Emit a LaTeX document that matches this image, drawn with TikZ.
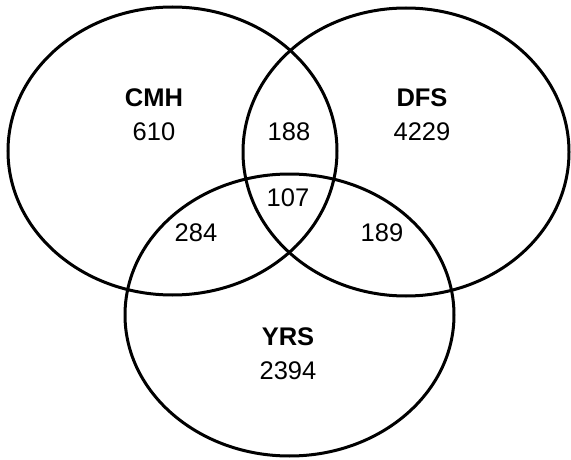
\documentclass[tikz,border=0pt]{standalone}
\usepackage{fontspec}
\setmainfont{Liberation Sans}

\begin{document}
\begin{tikzpicture}[x=1pt,y=-1pt,
  menge/.style={line width=3pt},
  zahl/.style={inner sep=0pt, font=\fontsize{25.5}{30}\selectfont},
  titel/.style={inner sep=0pt, font=\fontsize{25.5}{30}\selectfont\bfseries}]
	\useasboundingbox (0,0) rectangle (571,460);
	% Ellipsen zeichnen
	\draw[menge] (172.5,151) ellipse [x radius=164.5pt, y radius=144pt];
	\draw[menge] (406,152) ellipse [x radius=163pt, y radius=144pt];
	\draw[menge] (289.5,315) ellipse [x radius=164.5pt, y radius=141pt];
	% Mengen beschriften
	\node[titel] (cmh) at (154,98) {CMH};
	\node[zahl] (cmhzahl) at (154,132) {610};
	\node[titel] (dfs) at (422,98) {DFS};
	\node[zahl] (dfszahl) at (422,132) {4229};
	\node[titel] (yrs) at (288,337) {YRS};
	\node[zahl] (yrszahl) at (288,371) {2394};
	% Schnittmengen
	\node[zahl] (cmhdfs) at (289,132) {188};
	\node[zahl] (alle) at (288,198) {107};
	\node[zahl] (cmhyrs) at (196,233) {284};
	\node[zahl] (dfsyrs) at (382,233) {189};
\end{tikzpicture}
\end{document}
